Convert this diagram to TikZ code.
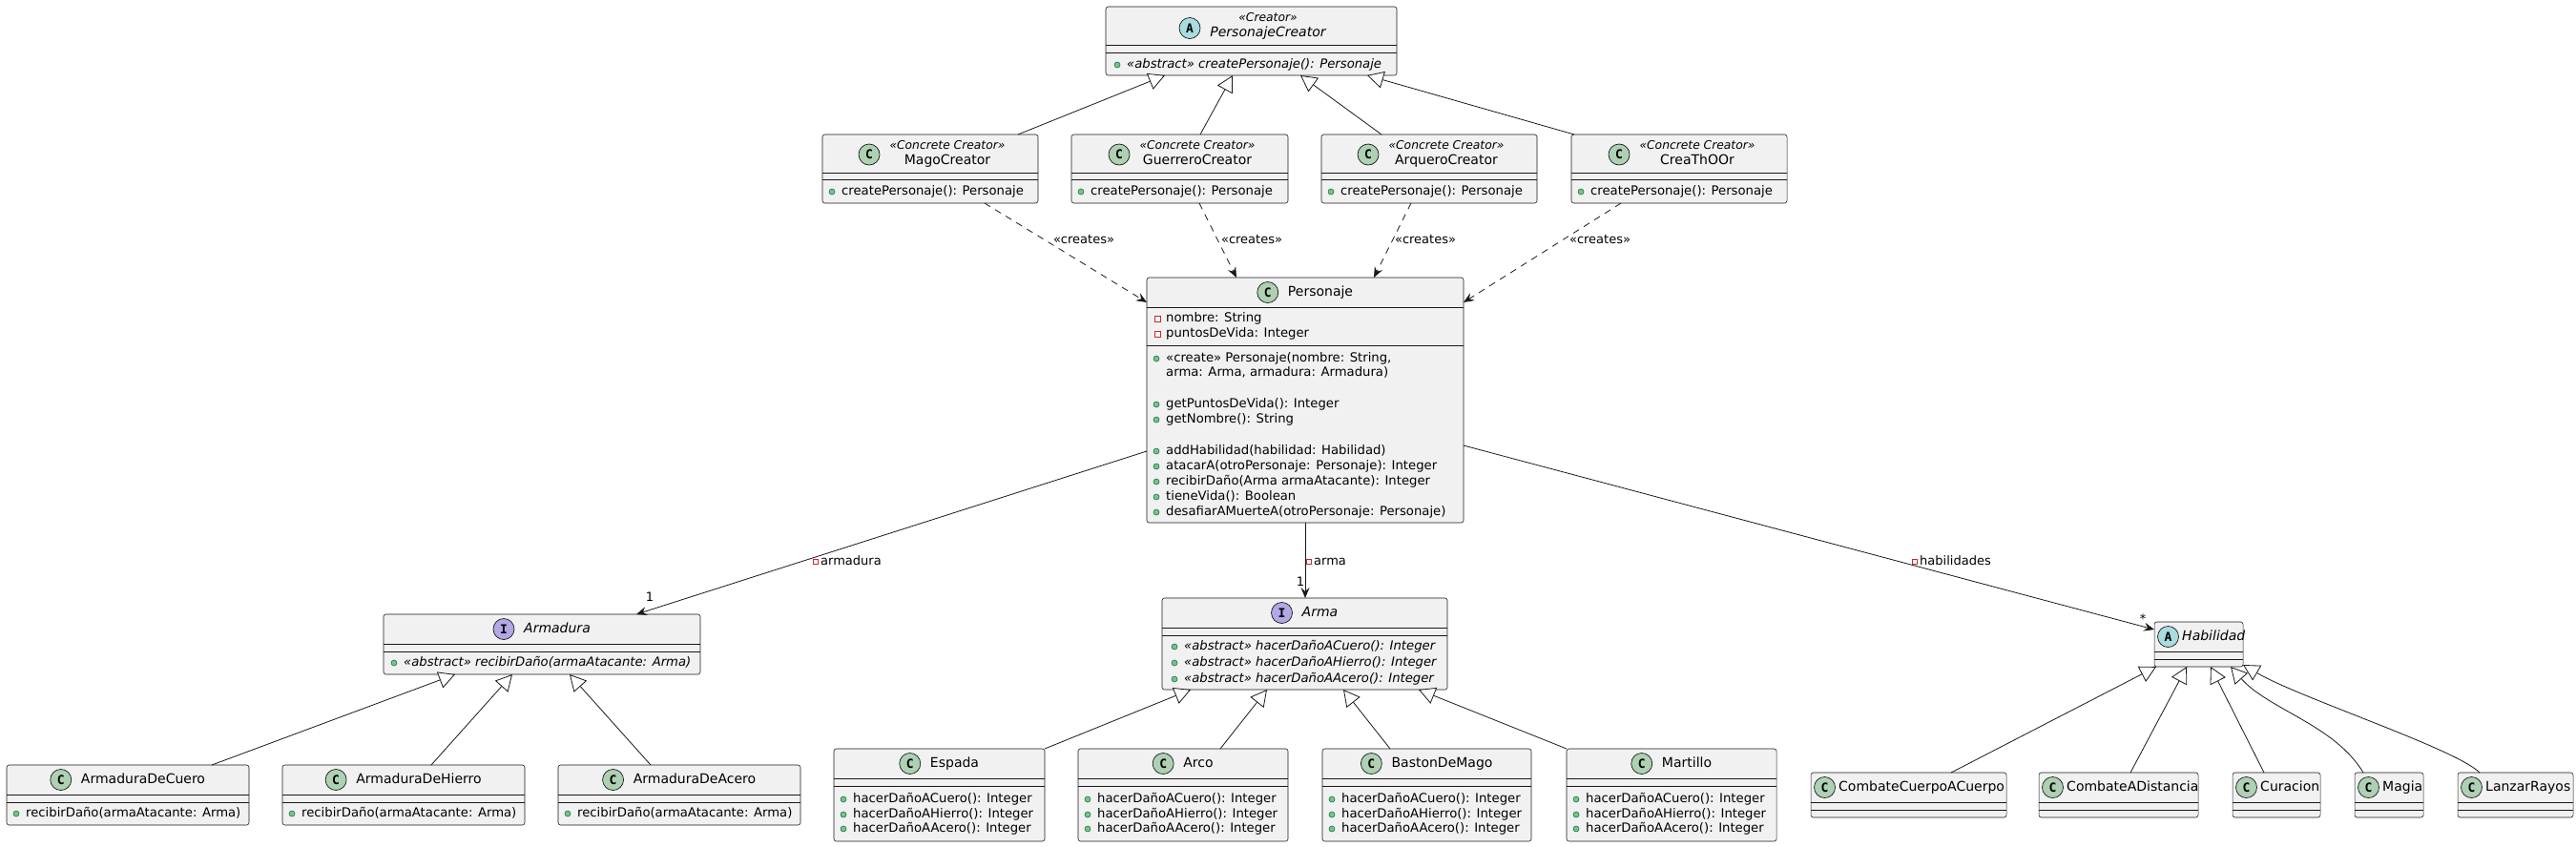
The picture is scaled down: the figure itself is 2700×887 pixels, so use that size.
\documentclass[tikz,border=0pt]{standalone}
\usepackage{fontspec}
\setmainfont{DejaVu Sans}
\newfontfamily\spotfont{DejaVu Sans Mono}
\usetikzlibrary{arrows.meta,calc}
\definecolor{boxfill}{HTML}{F1F1F1}
\definecolor{boxdraw}{HTML}{181818}
\definecolor{linec}{HTML}{181818}
\definecolor{cspot}{HTML}{ADD1B2}
\definecolor{aspot}{HTML}{A9DCDF}
\definecolor{ispot}{HTML}{B4A7E5}
\definecolor{pubfill}{HTML}{84BE84}
\definecolor{pubdraw}{HTML}{038048}
\definecolor{privdraw}{HTML}{C82930}
\tikzset{
 cbox/.style={draw=boxdraw, fill=boxfill, line width=0.55pt, rounded corners=2.5pt, inner sep=0pt, outer sep=0pt},
 sepl/.style={draw=boxdraw, line width=0.55pt},
 spot/.style={circle, draw=boxdraw, line width=0.7pt, minimum size=22pt, inner sep=0pt, font=\spotfont\bfseries\fontsize{13}{13}\selectfont},
 nm/.style={inner sep=0pt, font=\fontsize{14}{16}\selectfont, text height=10.5pt, text depth=2.5pt},
 nmi/.style={nm, font=\fontsize{14}{16}\selectfont\itshape},
 mem/.style={inner sep=0pt, anchor=west, font=\fontsize{13.2}{16}\selectfont, text height=10pt, text depth=2.5pt},
 memi/.style={mem, font=\fontsize{13.2}{16}\selectfont\itshape},
 ster/.style={inner sep=0pt, font=\fontsize{12.3}{14}\selectfont\itshape, text height=9.5pt, text depth=2.5pt},
 pubdot/.style={circle, draw=pubdraw, fill=pubfill, minimum size=6pt, inner sep=0pt, line width=0.6pt},
 privsq/.style={rectangle, draw=privdraw, minimum size=6pt, inner sep=0pt, line width=0.8pt},
 ext/.style={draw=linec, line width=0.8pt, -{Triangle[length=17pt,width=18pt,fill=white,line width=0.8pt]}},
 dep/.style={draw=linec, line width=0.8pt, dash pattern=on 7pt off 6pt, -{Stealth[length=11pt,width=9pt,inset=4pt]}},
 asc/.style={draw=linec, line width=0.8pt, -{Stealth[length=11pt,width=9pt,inset=4pt]}},
 lbl/.style={inner sep=0pt, font=\fontsize{13}{15}\selectfont, text height=9.5pt, text depth=2.5pt},
}
\newcommand\cls[7]{%
  \node[cbox, minimum width={#4-#2}, minimum height={#5-#3}] (#1) at ({(#2+#4)/2},{(#3+#5)/2}) {};
  \draw[sepl] (#2,#6) -- (#4,#6) (#2,#7) -- (#4,#7);
}
\newcommand\pubm[5]{%
  \node[pubdot] (#1d) at ({#2-10},#3) {};
  \node[#4] (#1) at (#2,#3) {#5};
}
\newcommand\privm[4]{%
  \node[privsq] (#1d) at ({#2-9},#3) {};
  \node[mem] (#1) at (#2,#3) {#4};
}
\newcommand\hdrc[7]{%
  \node[#6] (#1n) at ({#2+16},#3) {#7};
  \node[spot,fill=#5] (#1s) at ([xshift=-21pt]#1n.west) {#4};
}
\newcommand\hdrl[7]{%
  \node[spot,fill=#5] (#1s) at ({#2+14.5},#3) {#4};
  \node[#6,anchor=west] (#1n) at ({#2+29},#3) {#7};
}
\begin{document}
\begin{tikzpicture}[x=1pt,y=-1pt]
\useasboundingbox (0,0) rectangle (2700,887);
% boxes
\cls{pc}{1159}{7}{1464}{79}{47}{55}
\cls{mc}{862}{141}{1088}{213}{181}{188}
\cls{gc}{1123}{141}{1350}{213}{181}{188}
\cls{aq}{1385}{141}{1611}{213}{181}{188}
\cls{tc}{1647}{141}{1873}{213}{181}{188}
\cls{pe}{1202}{291}{1534}{548}{322}{362}
\cls{ad}{402}{644}{734}{707}{675}{683}
\cls{ar}{1218}{627}{1517}{723}{658}{666}
\cls{hb}{2258}{652}{2351}{699}{683}{691}
\cls{cu}{7}{802}{261}{865}{833}{841}
\cls{hi}{296}{802}{550}{865}{833}{841}
\cls{ace}{585}{802}{839}{865}{833}{841}
\cls{es}{874}{785}{1095}{882}{816}{824}
\cls{arc}{1130}{785}{1350}{882}{816}{824}
\cls{ba}{1386}{785}{1605}{882}{816}{824}
\cls{mt}{1642}{785}{1862}{882}{816}{824}
\cls{cc}{1898}{810}{2103}{857}{841}{849}
\cls{cd}{2137}{810}{2304}{857}{841}{849}
\cls{cr}{2340}{810}{2432}{857}{841}{849}
\cls{mg}{2468}{810}{2540}{857}{841}{849}
\cls{lr}{2576}{810}{2697}{857}{841}{849}
% PersonajeCreator
\node[spot,fill=aspot] (pcs) at (1247,29.5) {A};
\node[ster] (pct) at (1329,19) {«Creator»};
\node[nmi] (pcn) at (1329,34.5) {PersonajeCreator};
\pubm{pcm}{1181}{68}{memi}{«abstract» createPersonaje(): Personaje}
% creators
\node[spot,fill=cspot] (mcs) at (911,162) {C};
\node[ster] (mct) at (993,153) {«Concrete Creator»};
\node[nm] (mcn) at (993,168.5) {MagoCreator};
\pubm{mcm}{882}{201}{mem}{createPersonaje(): Personaje}
\node[spot,fill=cspot] (gcs) at (1173,162) {C};
\node[ster] (gct) at (1255,153) {«Concrete Creator»};
\node[nm] (gcn) at (1255,168.5) {GuerreroCreator};
\pubm{gcm}{1143}{201}{mem}{createPersonaje(): Personaje}
\node[spot,fill=cspot] (aqs) at (1434,162) {C};
\node[ster] (aqt) at (1516,153) {«Concrete Creator»};
\node[nm] (aqn) at (1516,168.5) {ArqueroCreator};
\pubm{aqm}{1405}{201}{mem}{createPersonaje(): Personaje}
\node[spot,fill=cspot] (tcs) at (1697,162) {C};
\node[ster] (tct) at (1779,153) {«Concrete Creator»};
\node[nm] (tcn) at (1779,168.5) {CreaThOOr};
\pubm{tcm}{1667}{201}{mem}{createPersonaje(): Personaje}
% Personaje
\hdrc{pe}{1368}{306.5}{C}{cspot}{nm}{Personaje}
\privm{pea1}{1222}{334}{nombre: String}
\privm{pea2}{1222}{350}{puntosDeVida: Integer}
\pubm{pem1}{1222}{376}{mem}{«create» Personaje(nombre: String,}
\node[mem] (pem1b) at (1222,391) {arma: Arma, armadura: Armadura)};
\pubm{pem2}{1222}{424}{mem}{getPuntosDeVida(): Integer}
\pubm{pem3}{1222}{440}{mem}{getNombre(): String}
\pubm{pem4}{1222}{473}{mem}{addHabilidad(habilidad: Habilidad)}
\pubm{pem5}{1222}{489}{mem}{atacarA(otroPersonaje: Personaje): Integer}
\pubm{pem6}{1222}{505}{mem}{recibirDaño(Arma armaAtacante): Integer}
\pubm{pem7}{1222}{521}{mem}{tieneVida(): Boolean}
\pubm{pem8}{1222}{537}{mem}{desafiarAMuerteA(otroPersonaje: Personaje)}
% Armadura
\hdrc{ad}{568}{659.5}{I}{ispot}{nmi}{Armadura}
\pubm{adm}{423}{695}{memi}{«abstract» recibirDaño(armaAtacante: Arma)}
% Arma
\hdrc{ar}{1367.5}{642.5}{I}{ispot}{nmi}{Arma}
\pubm{arm1}{1241}{678}{memi}{«abstract» hacerDañoACuero(): Integer}
\pubm{arm2}{1241}{695}{memi}{«abstract» hacerDañoAHierro(): Integer}
\pubm{arm3}{1241}{712}{memi}{«abstract» hacerDañoAAcero(): Integer}
% Habilidad
\hdrl{hb}{2258}{667.5}{A}{aspot}{nmi}{Habilidad}
% armor kids
\hdrc{cu}{134}{817.5}{C}{cspot}{nm}{ArmaduraDeCuero}
\pubm{cum}{27}{853}{mem}{recibirDaño(armaAtacante: Arma)}
\hdrc{hi}{423}{817.5}{C}{cspot}{nm}{ArmaduraDeHierro}
\pubm{him}{316}{853}{mem}{recibirDaño(armaAtacante: Arma)}
\hdrc{ace}{712}{817.5}{C}{cspot}{nm}{ArmaduraDeAcero}
\pubm{acem}{605}{853}{mem}{recibirDaño(armaAtacante: Arma)}
% weapons
\hdrc{es}{984.5}{800.5}{C}{cspot}{nm}{Espada}
\pubm{esm1}{894}{838}{mem}{hacerDañoACuero(): Integer}
\pubm{esm2}{894}{854}{mem}{hacerDañoAHierro(): Integer}
\pubm{esm3}{894}{869}{mem}{hacerDañoAAcero(): Integer}
\hdrc{arc}{1240}{800.5}{C}{cspot}{nm}{Arco}
\pubm{arcm1}{1150}{838}{mem}{hacerDañoACuero(): Integer}
\pubm{arcm2}{1150}{854}{mem}{hacerDañoAHierro(): Integer}
\pubm{arcm3}{1150}{869}{mem}{hacerDañoAAcero(): Integer}
\hdrc{ba}{1495.5}{800.5}{C}{cspot}{nm}{BastonDeMago}
\pubm{bam1}{1406}{838}{mem}{hacerDañoACuero(): Integer}
\pubm{bam2}{1406}{854}{mem}{hacerDañoAHierro(): Integer}
\pubm{bam3}{1406}{869}{mem}{hacerDañoAAcero(): Integer}
\hdrc{mt}{1752}{800.5}{C}{cspot}{nm}{Martillo}
\pubm{mtm1}{1662}{838}{mem}{hacerDañoACuero(): Integer}
\pubm{mtm2}{1662}{854}{mem}{hacerDañoAHierro(): Integer}
\pubm{mtm3}{1662}{869}{mem}{hacerDañoAAcero(): Integer}
% skill kids
\hdrl{cc}{1898}{825.5}{C}{cspot}{nm}{CombateCuerpoACuerpo}
\hdrl{cd}{2137}{825.5}{C}{cspot}{nm}{CombateADistancia}
\hdrl{cr}{2340}{825.5}{C}{cspot}{nm}{Curacion}
\hdrl{mg}{2468}{825.5}{C}{cspot}{nm}{Magia}
\hdrl{lr}{2576}{825.5}{C}{cspot}{nm}{LanzarRayos}
% creator inheritance
\draw[ext] ([xshift=92pt]mc.north) -- ([xshift=-90.5pt]pc.south);
\draw[ext] ([xshift=21.5pt]gc.north) -- ([xshift=-19.5pt]pc.south);
\draw[ext] ([xshift=-50pt]aq.north) -- ([xshift=51.5pt]pc.south);
\draw[ext] ([xshift=-110pt]tc.north) -- ([xshift=121.5pt]pc.south);
% creates
\draw[dep] ([xshift=57pt]mc.south) -- ([yshift=-26pt]pe.north west);
\draw[dep] ([xshift=20.5pt]gc.south) -- ([xshift=-72pt]pe.north);
\draw[dep] ([xshift=-19pt]aq.south) -- ([xshift=72pt]pe.north);
\draw[dep] ([xshift=-61pt]tc.south) -- ([yshift=-26pt]pe.north east);
\node[lbl] (cl1) at (1136,252) {«creates»};
\node[lbl] (cl2) at (1312,252) {«creates»};
\node[lbl] (cl3) at (1494,252) {«creates»};
\node[lbl] (cl4) at (1677,252) {«creates»};
% associations
\draw[asc] ([yshift=-53.5pt]pe.west) -- ([xshift=99pt]ad.north);
\draw[asc] (pe.south) -- (pe.south |- ar.north);
\draw[asc] ([yshift=-47.5pt]pe.east) -- ([yshift=15.5pt]hb.west);
\node[privsq,minimum size=5.5pt] (al1s) at (855,589) {};
\node[lbl,anchor=west] (al1) at (860,589) {armadura};
\node[privsq,minimum size=5.5pt] (al2s) at (1372,589) {};
\node[lbl,anchor=west] (al2) at (1377,589) {arma};
\node[privsq,minimum size=5.5pt] (al3s) at (2007,589) {};
\node[lbl,anchor=west] (al3) at (2012,589) {habilidades};
\node[lbl] (mu1) at (681,627) {1};
\node[lbl] (mu2) at (1363,611) {1};
\node[lbl] (mu3) at (2246,650) {*};
% armadura kids
\draw[ext] ([xshift=88pt]cu.north) -- ([xshift=-91pt]ad.south);
\draw[ext] ([xshift=29pt]hi.north) -- ([xshift=-31pt]ad.south);
\draw[ext] ([xshift=-30pt]ace.north) -- ([xshift=29pt]ad.south);
% arma kids
\draw[ext] (es.north east) -- ([xshift=-119.5pt]ar.south);
\draw[ext] ([xshift=39pt]arc.north) -- ([xshift=-39.5pt]ar.south);
\draw[ext] ([xshift=-38.5pt]ba.north) -- ([xshift=40.5pt]ar.south);
\draw[ext] (mt.north west) -- ([xshift=119.5pt]ar.south);
% habilidad kids
\draw[ext] ([xshift=44.5pt]cc.north) -- ([xshift=2pt]hb.south west);
\draw[ext] ([xshift=12.5pt]cd.north) -- ([xshift=-12.5pt]hb.south);
\draw[ext] ([xshift=-13pt]cr.north) -- ([xshift=12.5pt]hb.south);
\draw[ext] ([xshift=-27pt]mg.north) .. controls +(-30,-50) and +(40,45) .. ([xshift=33.5pt]hb.south);
\draw[ext] ([xshift=-37.5pt]lr.north) .. controls +(-25,-25) and +(60,35) .. ([yshift=2pt]hb.south east);
\end{tikzpicture}
\end{document}
